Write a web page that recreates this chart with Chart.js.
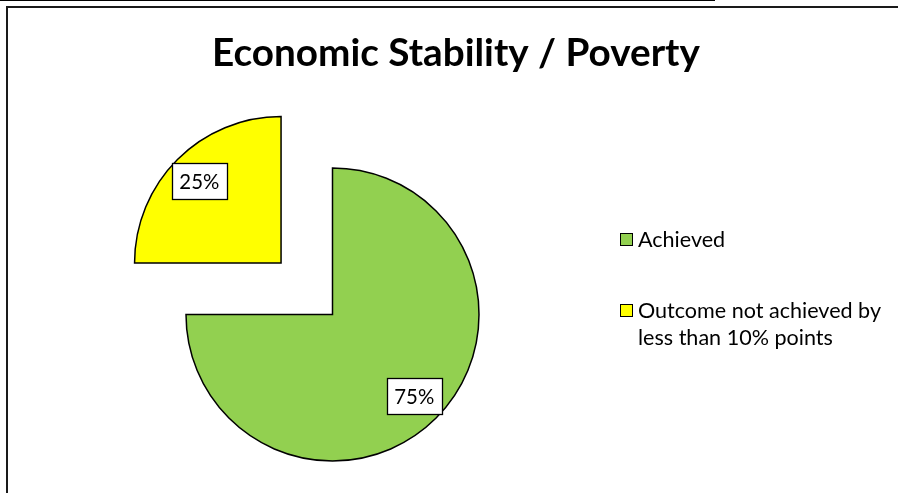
<!DOCTYPE html>
<html>
<head>
<meta charset="utf-8">
<script src="https://cdn.jsdelivr.net/npm/chart.js@4"></script>
<style>
  html, body { margin: 0; padding: 0; background: #fff; }
  #wrap { position: relative; width: 898px; height: 493px; overflow: hidden; }
  #c { position: absolute; left: 0; top: 0; }
  #frame { position: absolute; left: 6px; top: 6px; width: 900px; height: 500px;
           border-left: 2px solid #1a1a1a; border-top: 2px solid #1a1a1a; pointer-events: none; }
  #topline { position: absolute; left: 0; top: 0; width: 715px; height: 1px; background: #000; }
</style>
</head>
<body>
<div id="wrap">
  <canvas id="c" width="898" height="493"></canvas>
  <div id="frame"></div>
  <div id="topline"></div>
</div>
<script>
const chartTitle = "Economic Stability / Poverty";
const categories = ["Achieved", "Outcome not achieved by less than 10% points"];
const legendLines = [["Achieved"], ["Outcome not achieved by", "less than 10% points"]];
const values = [75, 25];
const valueLabels = ["75%", "25%"];
const colors = ["#92D050", "#FFFF00"];
const explode = [0, 291];

const FONT = "Lato, 'Open Sans', 'DejaVu Sans', sans-serif";

// font size that makes `text` span `target` px
function fitSize(ctx, text, weight, target) {
  ctx.font = weight + " 100px " + FONT;
  const w = ctx.measureText(text).width;
  return 100 * target / w;
}

const overlay = {
  id: 'overlay',
  afterDatasetsDraw(chart) {
    const ctx = chart.ctx;
    const meta = chart.getDatasetMeta(0);
    ctx.save();
    const fs = fitSize(ctx, "25%", "normal", 40);
    ctx.font = fs.toFixed(2) + "px " + FONT;
    ctx.textAlign = "center";
    ctx.textBaseline = "middle";
    meta.data.forEach((arc, i) => {
      const p = arc.getProps(['x', 'y', 'startAngle', 'endAngle', 'outerRadius'], true);
      const mid = (p.startAngle + p.endAngle) / 2;
      const off = (arc.options.offset || 0) / 4;
      const d = off + p.outerRadius * 0.789;
      const lx = p.x + Math.cos(mid) * d;
      const ly = p.y + Math.sin(mid) * d;
      const w = 55, h = 36;
      const bx = Math.round(lx - w / 2) + 0.5, by = Math.round(ly - h / 2) + 0.5;
      ctx.fillStyle = "#fff";
      ctx.fillRect(bx, by, w, h);
      ctx.strokeStyle = "#000";
      ctx.lineWidth = 1.3;
      ctx.strokeRect(bx, by, w, h);
      ctx.fillStyle = "#000";
      ctx.fillText(valueLabels[i], lx, ly + 1);
    });
    ctx.restore();
  },
  afterDraw(chart) {
    const ctx = chart.ctx;
    ctx.save();
    // title
    const ts = fitSize(ctx, chartTitle, "bold", 488);
    ctx.font = "bold " + ts.toFixed(2) + "px " + FONT;
    ctx.fillStyle = "#000";
    ctx.textAlign = "left";
    ctx.textBaseline = "alphabetic";
    ctx.fillText(chartTitle, 212, 66);
    // legend
    const boxX = 620, rowsY = [233, 304];
    const ls = fitSize(ctx, legendLines[1][0], "normal", 243);
    ctx.font = ls.toFixed(2) + "px " + FONT;
    ctx.textAlign = "left";
    legendLines.forEach((lines, i) => {
      ctx.fillStyle = colors[i];
      ctx.fillRect(boxX + 0.5, rowsY[i] + 0.5, 12, 12);
      ctx.strokeStyle = "#000";
      ctx.lineWidth = 1;
      ctx.strokeRect(boxX + 0.5, rowsY[i] + 0.5, 12, 12);
      ctx.fillStyle = "#000";
      lines.forEach((t, j) => {
        ctx.fillText(t, 638, rowsY[i] + 13.5 + j * 27);
      });
    });
    ctx.restore();
  }
};

new Chart(document.getElementById('c'), {
  type: 'pie',
  data: {
    labels: categories,
    datasets: [{
      data: values,
      backgroundColor: colors,
      borderColor: "#000",
      borderWidth: 1.5,
      borderJoinStyle: 'miter',
      offset: explode,
      hoverOffset: 0,
      clip: false
    }]
  },
  options: {
    responsive: false,
    animation: false,
    radius: 146.5,
    layout: { padding: { left: 182, right: 898 - 483, top: 140, bottom: 493 - 489 } },
    plugins: {
      legend: { display: false },
      title: { display: false },
      tooltip: { enabled: false }
    },
    events: []
  },
  plugins: [overlay]
});
</script>
</body>
</html>
